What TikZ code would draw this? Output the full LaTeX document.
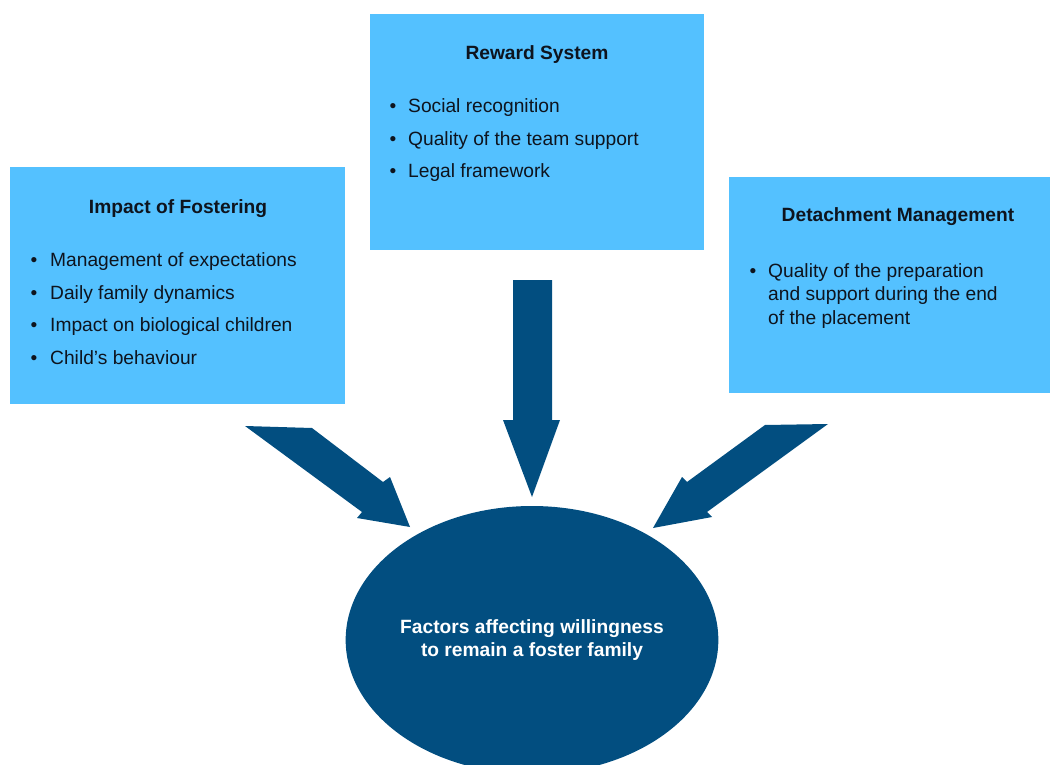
\documentclass[tikz,border=0pt]{standalone}
\usepackage{fontspec}
\setmainfont{Liberation Sans}
\usetikzlibrary{shapes.geometric}
\definecolor{boxblue}{RGB}{84,193,255}
\definecolor{navy}{RGB}{2,78,128}
\definecolor{ink}{RGB}{14,20,30}
\begin{document}
\begin{tikzpicture}[x=1pt,y=-1pt,
  factorbox/.style={rectangle,fill=boxblue,draw=none,anchor=north west,inner sep=0pt},
  boxtitle/.style={anchor=base,inner sep=0pt,text=ink,font=\fontsize{19.2}{23.5}\selectfont\bfseries},
  bullettext/.style={anchor=base west,inner sep=0pt,text=ink,font=\fontsize{19.2}{23.5}\selectfont},
  dot/.style={anchor=base,inner sep=0pt,text=ink,font=\fontsize{19.2}{23.5}\selectfont},
  blockarrow/.style={fill=navy,draw=none}]
\useasboundingbox (0,0) rectangle (1050,765);
\clip (0,0) rectangle (1050,765);

% the three factor boxes
\node[factorbox,minimum width=335pt,minimum height=237pt] (impact) at (10,167) {};
\node[factorbox,minimum width=334pt,minimum height=236pt] (reward) at (370,14) {};
\node[factorbox,minimum width=336pt,minimum height=216pt] (detach) at (729,177) {};

% Impact of Fostering
\node[boxtitle] (impactT) at (178,214) {Impact of Fostering};
\foreach \y/\t [count=\i] in {266/Management of expectations,299/Daily family dynamics,331/Impact on biological children,364/Child’s behaviour}{
  \node[dot] (impactD\i) at (34,\y) {•};
  \node[bullettext] (impactL\i) at (50,\y) {\t};
}

% Reward System
\node[boxtitle] (rewardT) at (537,60) {Reward System};
\foreach \y/\t [count=\i] in {113/Social recognition,146/Quality of the team support,178/Legal framework}{
  \node[dot] (rewardD\i) at (393,\y) {•};
  \node[bullettext] (rewardL\i) at (408,\y) {\t};
}

% Detachment Management
\node[boxtitle] (detachT) at (898,222) {Detachment Management};
\node[dot] (detachD1) at (753,277) {•};
\node[bullettext] (detachL1) at (768,277)
  {\parbox[t]{270pt}{\raggedright Quality of the preparation\\and support during the end\\of the placement}};

% central outcome
\node[ellipse,fill=navy,minimum width=354pt,minimum height=268pt,inner sep=0pt,
      text=white,align=center,font=\fontsize{19.2}{22.5}\selectfont\bfseries]
      (factors) at (532,640) {Factors affecting willingness\\to remain a foster family};

% block arrows pointing at the outcome
\fill[blockarrow] (245,426) -- (312,428) -- (383,482) -- (390,477) -- (410,527)
  -- (357,518) -- (362,512) -- cycle;
\fill[blockarrow] (513,280) -- (552,280) -- (552,420) -- (560,420) -- (532,497)
  -- (503,420) -- (513,420) -- cycle;
\fill[blockarrow] (765,425) -- (828,424) -- (707,512) -- (712,517) -- (653,528)
  -- (682,477) -- (687,482) -- cycle;
\end{tikzpicture}
\end{document}
